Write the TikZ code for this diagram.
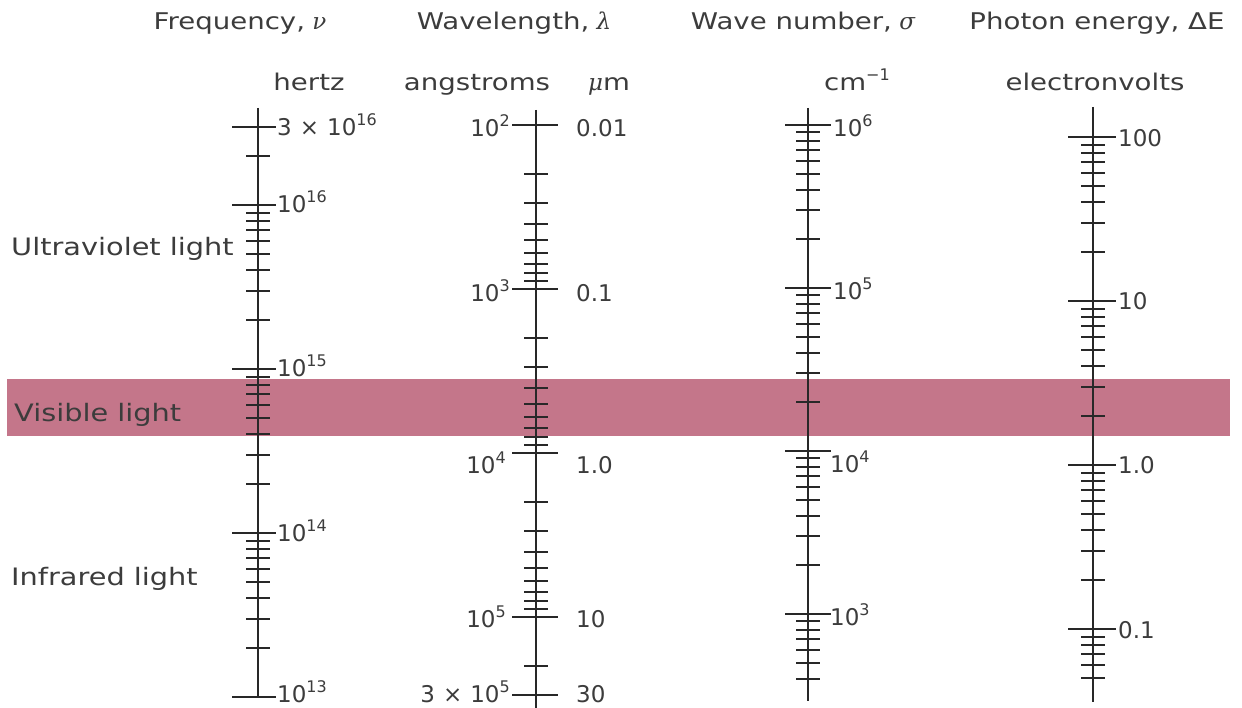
\documentclass[tikz,border=0pt]{standalone}
\usepackage{fontspec}
\setmainfont{DejaVu Sans}
\newfontfamily\gk{DejaVu Serif}
\usepackage{graphicx}
\definecolor{ink}{RGB}{40,40,40}
\definecolor{txt}{RGB}{60,60,60}
\definecolor{bandcol}{RGB}{196,118,138}
\newcommand\wide[1]{\scalebox{1.2}[1]{#1}}
\newcommand\gr[1]{{\gk\itshape #1}}
\newcommand\sups[1]{\raisebox{10pt}{\fontsize{16}{16}\selectfont #1}}
\newcommand\ten[1]{10\sups{#1}}
\newcommand\tms{\hspace{0.35em}×\hspace{0.35em}}
\tikzset{
  axisline/.style={draw=ink, line width=1.6pt},
  tickmark/.style={draw=ink, line width=2pt},
  lbl/.style={text=txt, font=\fontsize{23}{27}\selectfont, inner sep=0pt},
  num/.style={text=txt, font=\fontsize{23}{27}\selectfont, inner sep=0pt},
  head/.style={lbl, anchor=base},
  lw/.style={num, anchor=base west},
  le/.style={num, anchor=base east},
  side/.style={text=txt, font=\fontsize{24}{28}\selectfont, inner sep=0pt, anchor=base west},
}
\begin{document}
\begin{tikzpicture}[x=1pt,y=-1pt]
\useasboundingbox (0,0) rectangle (1242,708);
\fill[white] (0,0) rectangle (1242,708);
% visible band
\fill[bandcol] (7,379) rectangle (1230,436);

% headers
\node[head] (hF) at (240,30) {\wide{Frequency,} \gr{ν}};
\node[head] (hW) at (514,30) {\wide{Wavelength,} \gr{λ}};
\node[head] (hN) at (803,30) {\wide{Wave number,} \gr{σ}};
\node[head] (hE) at (1097,30) {\wide{Photon energy, ΔE}};
% units
\node[head] (uHz) at (309,91) {\wide{hertz}};
\node[head] (uA) at (477,91) {\wide{angstroms}};
\node[head] (uM) at (609,91) {\gr{μ}\wide{m}};
\node[head] (uC) at (857,91) {\wide{cm}\sups{−1}};
\node[head] (uE) at (1095,91) {\wide{electronvolts}};
% side labels
\node[side] (uv) at (11,256) {\wide{Ultraviolet light}};
\node[side] (vis) at (14,421) {\wide{Visible light}};
\node[side] (ir) at (11,585) {\wide{Infrared light}};

% ---------- Frequency axis ----------
\draw[axisline] (258,108) -- (258,697);
\foreach \yy in {127,205,369,533,697}
  \draw[tickmark] (232,\yy) -- (276,\yy);
\draw[tickmark] (246,156) -- (270,156);
\foreach \e in {0,1,2}
  \foreach \m in {2,...,9}{
    \pgfmathsetmacro\yy{round(369+164*\e-164*log10(\m))}
    \draw[tickmark] (246,\yy) -- (270,\yy);
  }
\node[lw] (f1) at (277,136) {3\tms\ten{16}};
\node[lw] (f2) at (277,213) {\ten{16}};
\node[lw] (f3) at (277,377) {\ten{15}};
\node[lw] (f4) at (277,541) {\ten{14}};
\node[lw] (f5) at (277,702) {\ten{13}};

% ---------- Wavelength axis ----------
\draw[axisline] (536,110) -- (536,708);
\foreach \yy in {125,289,453,617,695}
  \draw[tickmark] (512,\yy) -- (558,\yy);
\foreach \e in {0,1,2}
  \foreach \m in {2,...,9}{
    \pgfmathsetmacro\yy{round(125+164*\e+164*log10(\m))}
    \draw[tickmark] (524,\yy) -- (548,\yy);
  }
\draw[tickmark] (524,666) -- (548,666);
\node[le] (wa1) at (510,137) {\ten{2}};
\node[le] (wa2) at (510,302) {\ten{3}};
\node[le] (wa3) at (506,473) {\ten{4}};
\node[le] (wa4) at (506,627) {\ten{5}};
\node[le] (wa5) at (510,702) {3\tms\ten{5}};
\node[lw] (wm1) at (576,137) {0.01};
\node[lw] (wm2) at (576,302) {0.1};
\node[lw] (wm3) at (576,473) {1.0};
\node[lw] (wm4) at (576,627) {10};
\node[lw] (wm5) at (576,702) {30};

% ---------- Wave number axis ----------
\draw[axisline] (808,108) -- (808,701);
\foreach \yy in {125,288,451,614}
  \draw[tickmark] (785,\yy) -- (831,\yy);
\foreach \e in {0,1,2}
  \foreach \m in {2,...,9}{
    \pgfmathsetmacro\yy{round(288+163*\e-163*log10(\m))}
    \draw[tickmark] (796,\yy) -- (820,\yy);
  }
\foreach \m in {4,...,9}{
  \pgfmathsetmacro\yy{round(777-163*log10(\m))}
  \draw[tickmark] (796,\yy) -- (820,\yy);
}
\node[lw] (n1) at (833,137) {\ten{6}};
\node[lw] (n2) at (833,300) {\ten{5}};
\node[lw] (n3) at (830,472) {\ten{4}};
\node[lw] (n4) at (830,625) {\ten{3}};

% ---------- Photon energy axis ----------
\draw[axisline] (1093,107) -- (1093,702);
\foreach \yy in {137,301,465,629}
  \draw[tickmark] (1068,\yy) -- (1116,\yy);
\foreach \e in {0,1,2}
  \foreach \m in {2,...,9}{
    \pgfmathsetmacro\yy{round(301+164*\e-164*log10(\m))}
    \draw[tickmark] (1081,\yy) -- (1105,\yy);
  }
\foreach \m in {5,...,9}{
  \pgfmathsetmacro\yy{round(793-164*log10(\m))}
  \draw[tickmark] (1081,\yy) -- (1105,\yy);
}
\node[lw] (e1) at (1118,147) {100};
\node[lw] (e2) at (1118,310) {10};
\node[lw] (e3) at (1118,473) {1.0};
\node[lw] (e4) at (1118,638) {0.1};
\end{tikzpicture}
\end{document}
